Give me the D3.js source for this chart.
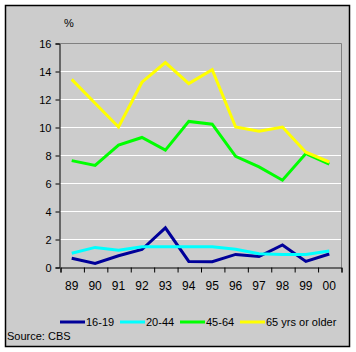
<!DOCTYPE html>
<html>
<head>
<meta charset="utf-8">
<script src="https://cdn.jsdelivr.net/npm/d3@7"></script>
<style>
	body { margin: 0; background: #ffffff; }
	svg { display: block; }
	text { font-family: Arial, "Liberation Sans", sans-serif; font-size: 11px; fill: #000000; }
</style>
</head>
<body>
<svg id="chart" width="356" height="352"></svg>
<script>
// chart data
const years = [ '89', '90', '91', '92', '93', '94', '95', '96', '97', '98', '99', '00' ];
const age16to19 = [ 0.62, 0.26, 0.8, 1.25, 2.8, 0.4, 0.38, 0.9, 0.75, 1.57, 0.4, 0.93 ];
const age20to44 = [ 0.98, 1.4, 1.2, 1.45, 1.45, 1.45, 1.45, 1.27, 0.95, 0.9, 0.9, 1.15 ];
const age45to64 = [ 7.6, 7.25, 8.7, 9.25, 8.35, 10.4, 10.2, 7.9, 7.15, 6.2, 8.1, 7.35 ];
const age65plus = [ 13.4, 11.7, 10.0, 13.2, 14.6, 13.1, 14.1, 10.0, 9.7, 10.0, 8.2, 7.5 ];
const seriesNames = [ '16-19', '20-44', '45-64', '65 yrs or older' ];
const seriesColours = [ '#000099', '#00ffff', '#00ff00', '#ffff00' ];
const yTicks = [ 0, 2, 4, 6, 8, 10, 12, 14, 16 ];

const allSeries = [ age16to19, age20to44, age45to64, age65plus ];

let svg = d3.select('#chart');
let plotLeft = 60, plotRight = 341, plotTop = 43, plotBottom = 267;

// background and frame
svg.append('rect')
	.attr('x', 5.5).attr('y', 5.5)
	.attr('width', 344).attr('height', 341)
	.style('fill', '#cccccc')
	.style('stroke', '#000000')
	.style('stroke-width', 1.5);

let xScale = d3.scaleBand()
	.domain(years)
	.range([ plotLeft, plotRight ]);
let yScale = d3.scaleLinear()
	.domain([ 0, 16 ])
	.range([ plotBottom, plotTop ]);

// gridlines
svg.append('g')
	.selectAll('line')
	.data(yTicks.filter(function(d) { return d > 0 && d < 16; }))
	.enter().append('line')
	.attr('x1', plotLeft).attr('x2', plotRight)
	.attr('y1', function(d) { return yScale(d) + 0.5; })
	.attr('y2', function(d) { return yScale(d) + 0.5; })
	.style('stroke', '#ffffff')
	.style('stroke-width', 1);

// plot border (top and right)
svg.append('path')
	.attr('d', 'M' + plotLeft + ',' + (plotTop + 0.5) + 'H' + (plotRight + 0.5) + 'V' + plotBottom)
	.style('fill', 'none')
	.style('stroke', '#808080')
	.style('stroke-width', 1);

// axes
let yAxis = d3.axisLeft(yScale)
	.tickValues(yTicks)
	.tickSize(4)
	.tickPadding(4);
let yAxisG = svg.append('g')
	.attr('transform', 'translate(' + (plotLeft - 0.5) + ',0.5)')
	.call(yAxis);

let xAxis = d3.axisBottom(d3.scaleLinear().domain([ 0, years.length ]).range([ plotLeft, plotRight ]))
	.tickValues(d3.range(0, years.length + 1))
	.tickFormat('')
	.tickSize(5);
let xAxisG = svg.append('g')
	.attr('transform', 'translate(0.5,' + (plotBottom + 0.5) + ')')
	.call(xAxis);

[ yAxisG, xAxisG ].forEach(function(g) {
	g.select('.domain').style('stroke', '#000000');
	g.selectAll('.tick line').style('stroke', '#000000');
	g.selectAll('text').style('font-size', '11px').style('fill', '#000000').attr('font-family', null);
});

// year labels
svg.append('g')
	.selectAll('text')
	.data(years)
	.enter().append('text')
	.attr('x', function(d) { return xScale(d) + xScale.bandwidth() / 2; })
	.attr('y', 290)
	.attr('text-anchor', 'middle')
	.style('font-size', '12px')
	.text(function(d) { return d; });

// unit label
svg.append('text')
	.attr('x', 64).attr('y', 27)
	.text('%');

// lines
let line = d3.line()
	.x(function(d, i) { return xScale(years[i]) + xScale.bandwidth() / 2; })
	.y(function(d) { return yScale(d); });

allSeries.forEach(function(series, i) {
	svg.append('path')
		.datum(series)
		.attr('d', line)
		.style('fill', 'none')
		.style('stroke', seriesColours[i])
		.style('stroke-width', 3)
		.style('stroke-linejoin', 'miter');
});

// legend
let legendX = [ 60, 120, 180, 240 ];
let legendG = svg.append('g');
seriesNames.forEach(function(name, i) {
	legendG.append('line')
		.attr('x1', legendX[i]).attr('x2', legendX[i] + 25)
		.attr('y1', 322).attr('y2', 322)
		.style('stroke', seriesColours[i])
		.style('stroke-width', 3);
	legendG.append('text')
		.attr('x', legendX[i] + 26).attr('y', 326)
		.text(name);
});

// source
svg.append('text')
	.attr('x', 7).attr('y', 340)
	.text('Source: CBS');
</script>
</body>
</html>
